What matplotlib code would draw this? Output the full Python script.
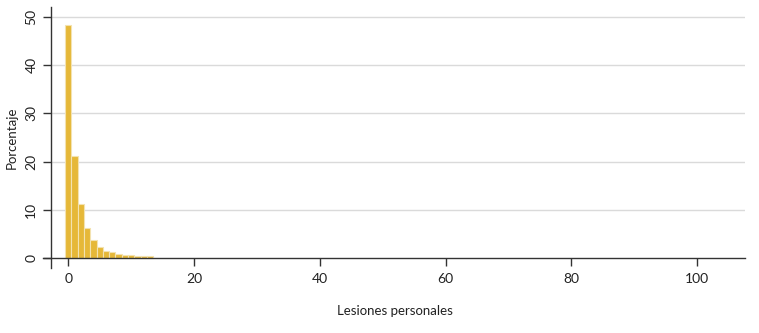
import numpy as np
import matplotlib
matplotlib.use('Agg')
import matplotlib.pyplot as plt

# Lesiones personales: share of observations per count (percent)
lesiones = [0, 1, 2, 3, 4, 5, 6, 7, 8, 9, 10, 11, 12, 13]
porcentaje = [48.4, 21.1, 11.1, 6.3, 3.7, 2.2, 1.45, 1.2, 0.9, 0.55, 0.55, 0.35, 0.35, 0.35]
xticks = [0, 20, 40, 60, 80, 100]
yticks = [0, 10, 20, 30, 40, 50]


def main():
    plt.rcParams['font.family'] = ['Lato', 'DejaVu Sans']
    fig = plt.figure(figsize=(7.59, 3.33), dpi=100)
    ax = fig.add_axes([0.0567, 0.195, 0.925, 0.783])

    ax.bar(lesiones, porcentaje, width=1.0, color='#E6B838',
           edgecolor='#F3E2B0', linewidth=0.8, zorder=3)

    ax.set_xlim(-4, 107.6)
    ax.set_ylim(-2.1, 52)

    # horizontal grid starting at the y axis line
    ax.hlines(yticks[1:], -2.7, 107.6, color='#DADADA', linewidth=1.0, zorder=1)

    for side in ['top', 'right']:
        ax.spines[side].set_visible(False)
    ax.spines['bottom'].set_position(('data', 0))
    ax.spines['left'].set_position(('data', -2.7))
    for side in ['bottom', 'left']:
        ax.spines[side].set_color('#333333')
        ax.spines[side].set_linewidth(1.0)
        ax.spines[side].set_zorder(4)

    ax.set_xticks(xticks)
    ax.set_yticks(yticks)
    ax.tick_params(axis='x', direction='out', length=6, width=1.0, color='#333333',
                   labelsize=10, pad=5, labelcolor='#222222')
    ax.tick_params(axis='y', direction='out', length=6, width=1.0, color='#333333',
                   labelsize=10, pad=4, labelcolor='#222222')
    for label in ax.yaxis.get_ticklabels():
        label.set_rotation(90)
        label.set_verticalalignment('center')

    fig.text(0.52, 0.065, 'Lesiones personales', ha='center', va='center',
             fontsize=9.5, color='#222222')
    fig.text(0.016, 0.585, 'Porcentaje', ha='center', va='center', rotation=90,
             fontsize=9.5, color='#222222')

    fig.savefig('out.png', dpi=100)


if __name__ == '__main__':
    main()
